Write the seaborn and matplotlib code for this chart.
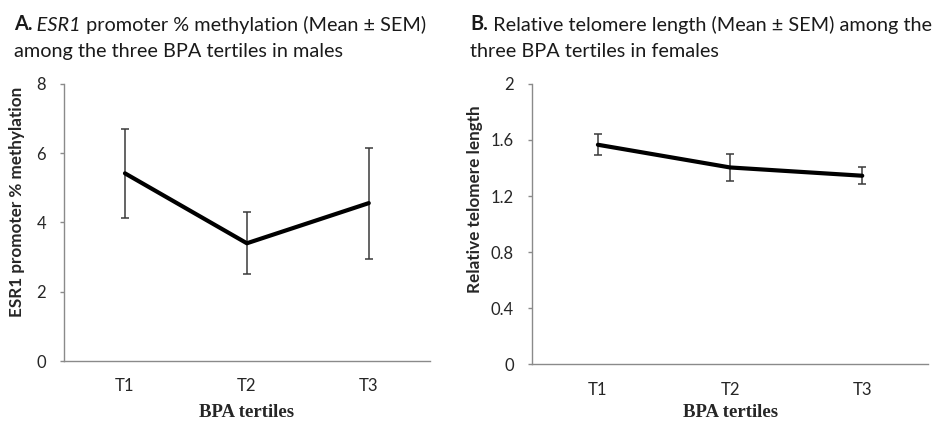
import matplotlib
matplotlib.use("Agg")
import matplotlib.pyplot as plt
import seaborn as sns
import pandas as pd

# ---- data ----
tertiles = ["T1", "T2", "T3"]
esr1_mean = [5.42, 3.40, 4.56]
esr1_sem = [1.29, 0.89, 1.60]
telo_mean = [1.566, 1.404, 1.345]
telo_sem = [0.075, 0.095, 0.060]

sns.set_theme(style="white")
plt.rcParams['font.family'] = ['Lato', 'DejaVu Sans']

fig = plt.figure(figsize=(9.33, 4.21), dpi=100)
axA = fig.add_axes([0.0686, 0.1425, 0.392, 0.658])
axB = fig.add_axes([0.570, 0.1347, 0.425, 0.666])

spine_col = "#8a8a8a"
err_col = "#3a3a3a"
txt_col = "#262626"

def panel(ax, mean, sem, ylim, yticks, yticklabels, ylabel, ylab_xy, xlab_y, xpad):
    df = pd.DataFrame({"tertile": tertiles, "value": mean})
    pos = list(range(len(tertiles)))
    ax.errorbar(pos, mean, yerr=sem, fmt="none", ecolor=err_col,
                elinewidth=1.1, capsize=2.6, capthick=1.1, zorder=2)
    sns.lineplot(data=df, x="tertile", y="value", ax=ax, color="black",
                 linewidth=3.0, zorder=3, sort=False)
    ax.set_xlim(-0.5, 2.5)
    ax.set_ylim(*ylim)
    ax.set_yticks(yticks)
    ax.set_yticklabels(yticklabels)
    ax.set_xticks(pos)
    ax.set_xticklabels(tertiles)
    for s in ["top", "right"]:
        ax.spines[s].set_visible(False)
    for s in ["left", "bottom"]:
        ax.spines[s].set_color(spine_col)
        ax.spines[s].set_linewidth(1.0)
    ax.tick_params(axis="y", which="both", left=True, length=3, width=1.0,
                   color=spine_col, labelsize=12, labelcolor=txt_col, pad=10)
    ax.tick_params(axis="x", bottom=False, labelsize=12, labelcolor=txt_col, pad=xpad)
    ax.set_ylabel(ylabel, fontsize=12.3, fontweight="bold", color=txt_col)
    ax.yaxis.set_label_coords(*ylab_xy)
    ax.set_xlabel("BPA tertiles", fontsize=13.5, fontweight="bold",
                  family=["Liberation Serif", "DejaVu Serif"], color=txt_col)
    ax.xaxis.set_label_coords(0.5, xlab_y)

panel(axA, esr1_mean, esr1_sem, (0, 8), [0, 2, 4, 6, 8],
      ["0", "2", "4", "6", "8"], "ESR1 promoter % methylation",
      (-0.107, 0.576), -0.156, 6)
panel(axB, telo_mean, telo_sem, (0, 2), [0, 0.4, 0.8, 1.2, 1.6, 2.0],
      ["0", "0.4", "0.8", "1.2", "1.6", "2"], "Relative telomere length",
      (-0.123, 0.59), -0.142, 7)

# ---- titles with mixed styles ----
tsize = 14.3
tcol = "#1a1a1a"
t1 = fig.text(14/933, 1 - 30/421, "A.", fontsize=tsize, fontweight="bold",
              color=tcol, va="baseline")
a = axA.annotate(" ESR1", xy=(1, 0), xycoords=t1, va="bottom", ha="left",
                 fontsize=tsize, fontstyle="italic", color=tcol)
axA.annotate(" promoter % methylation (Mean ± SEM)", xy=(1, 0), xycoords=a,
             va="bottom", ha="left", fontsize=tsize, color=tcol)
fig.text(14/933, 1 - 57/421, "among the three BPA tertiles in males",
         fontsize=tsize, color=tcol, va="baseline")

b1 = fig.text(470/933, 1 - 30/421, "B.", fontsize=tsize, fontweight="bold",
              color=tcol, va="baseline")
axB.annotate(" Relative telomere length (Mean ± SEM) among the", xy=(1, 0),
             xycoords=b1, va="bottom", ha="left", fontsize=tsize, color=tcol)
fig.text(470/933, 1 - 57/421, "three BPA tertiles in females",
         fontsize=tsize, color=tcol, va="baseline")

fig.savefig("out.png", dpi=100)
